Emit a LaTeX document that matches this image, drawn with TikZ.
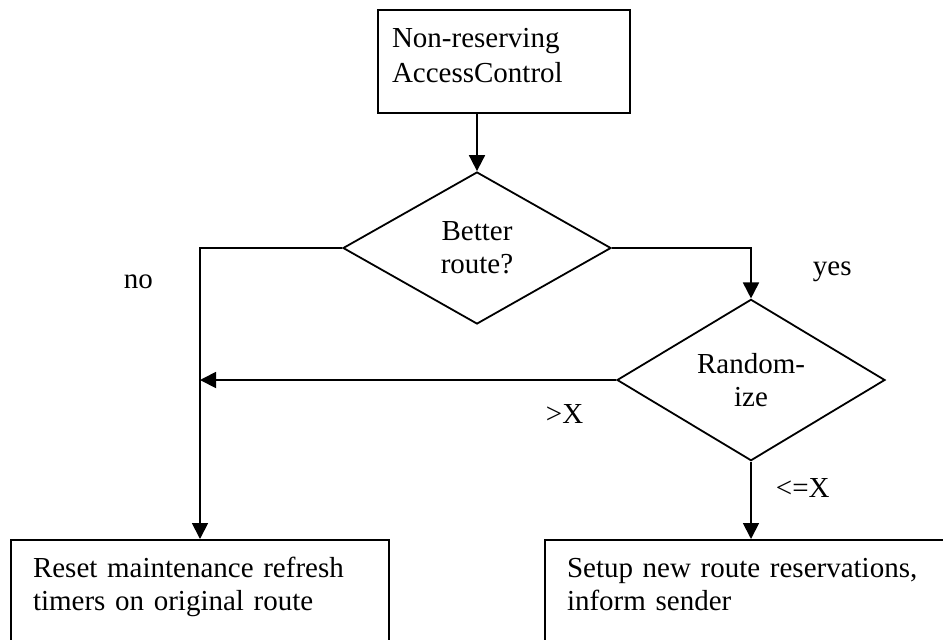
\documentclass[tikz,border=0pt]{standalone}
\usepackage{fontspec}
\setmainfont{Liberation Serif}
\usetikzlibrary{shapes.geometric, positioning, arrows.meta}

\begin{document}
\begin{tikzpicture}[x=0.5pt, y=-0.5pt, on grid, line width=0.9pt,
    >={Triangle[width=8pt, length=8pt]},
    every node/.style={font=\fontsize{14.5}{16.5}\selectfont},
    proc/.style={draw, rectangle, align=left, inner xsep=11pt, inner ysep=0pt},
    decision/.style={draw, diamond, align=center, inner sep=0pt,
        minimum width=134pt, minimum height=76pt},
    lbl/.style={inner sep=0pt, anchor=base west}]
    \useasboundingbox (0,0) rectangle (943,639);
    \clip (0,0) rectangle (943,639);

    \node[decision] (better) at (477,248) {Better\\route?};
    \node[proc, inner xsep=7pt, text width=112pt, text height=18.5pt, text depth=33pt,
        font=\fontsize{14.5}{17.5}\selectfont] (ctrl)
        [above right=93.25pt and 13.5pt of better] {Non-reserving\\AccessControl};
    \node[decision] (rand) [below right=66pt and 137pt of better] {Random-\\ize};
    \node[proc, anchor=north, text width=167pt, text height=19pt, text depth=60pt]
        (reset) at (200,539) {Reset maintenance refresh\\timers on original route};
    \node[proc, anchor=north, text width=184pt, text height=19pt, text depth=60pt]
        (setup) at (751,539) {Setup new route reservations,\\inform sender};

    % branch labels
    \node[lbl] (no)  at (123,288) {no};
    \node[lbl] (yes) at (812,275) {yes};
    \node[lbl] (gt)  at (545,423) {>X};
    \node[lbl] (le)  at (775,497) {<=X};

    \draw[->] (ctrl.south -| better.north) -- (better.north);
    \draw[->] (better) -| (reset);
    \draw[->] (better) -| (rand);
    \draw[->] (rand.west) -- (rand.west -| reset.north);
    \draw[->] (rand) -- (setup);
\end{tikzpicture}
\end{document}
